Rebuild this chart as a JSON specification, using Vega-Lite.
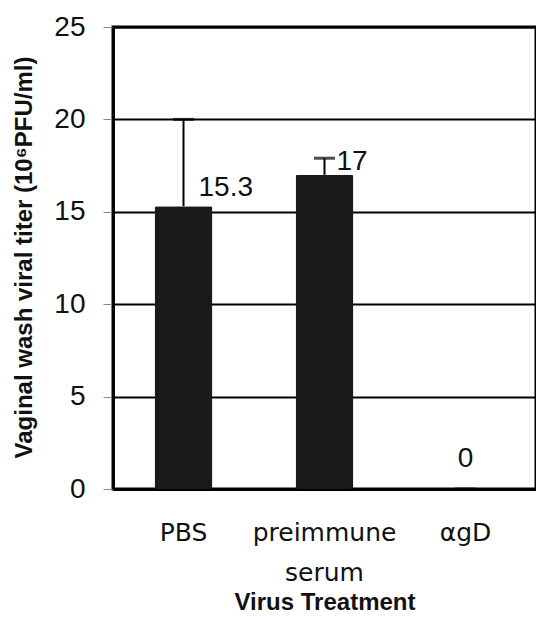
{
  "$schema": "https://vega.github.io/schema/vega-lite/v6.json",
  "width": 423,
  "height": 462,
  "autosize": "none",
  "padding": {"left": 113, "top": 27, "right": 0, "bottom": 129},
  "background": "white",
  "config": {
    "view": {"stroke": "black", "strokeWidth": 3},
    "font": "Liberation Sans"
  },
  "data": {
    "values": [
      {"treatment": "PBS", "titer": 15.3, "upper": 20, "label": "15.3"},
      {"treatment": "preimmune serum", "titer": 17, "upper": 17.9, "label": "17"},
      {"treatment": "αgD", "titer": 0, "upper": 0, "label": "0"}
    ]
  },
  "encoding": {
    "x": {
      "field": "treatment",
      "type": "nominal",
      "sort": null,
      "scale": {"paddingInner": 0.59, "paddingOuter": 0.295},
      "axis": {
        "title": "Virus Treatment",
        "titleFont": "Liberation Sans",
        "titleFontWeight": "bold",
        "titleFontSize": 24,
        "titleColor": "#111",
        "titleBaseline": "alphabetic",
        "titleY": 120,
        "labelAngle": 0,
        "labelFont": "DejaVu Sans",
        "labelFontSize": 25,
        "labelColor": "#111",
        "labelPadding": 31,
        "labelLineHeight": 40,
        "labelExpr": "datum.label == 'preimmune serum' ? ['preimmune', 'serum'] : datum.label",
        "ticks": false,
        "domainColor": "black",
        "domainWidth": 3
      }
    }
  },
  "layer": [
    {
      "mark": {"type": "bar", "color": "#1a1a1a", "cornerRadius": 2},
      "encoding": {
        "y": {
          "field": "titer",
          "type": "quantitative",
          "scale": {"domain": [0, 25], "nice": false},
          "axis": {
            "title": "Vaginal wash viral titer (10⁶PFU/ml)",
            "titleFontWeight": "bold",
            "titleFontSize": 24,
            "titleColor": "#111",
            "titleX": -89,
            "titleY": 230,
            "titleBaseline": "middle",
            "values": [0, 5, 10, 15, 20, 25],
            "grid": true,
            "gridColor": "black",
            "gridWidth": 2,
            "gridOpacity": 1,
            "labelFontSize": 28,
            "labelColor": "#111",
            "labelPadding": 18,
            "tickSize": 10,
            "tickColor": "#888",
            "domainColor": "black",
            "domainWidth": 3
          }
        }
      }
    },
    {
      "transform": [{"filter": "datum.upper > datum.titer"}],
      "mark": {"type": "rule", "color": "black", "strokeWidth": 2},
      "encoding": {
        "y": {"field": "titer", "type": "quantitative"},
        "y2": {"field": "upper"}
      }
    },
    {
      "mark": {"type": "tick", "color": "black", "orient": "horizontal", "size": 21, "thickness": 3},
      "encoding": {
        "y": {"field": "upper", "type": "quantitative"}
      }
    },
    {
      "transform": [{"filter": "datum.treatment == 'PBS'"}],
      "mark": {"type": "text", "align": "left", "baseline": "alphabetic", "dx": 15, "dy": -10, "fontSize": 28, "color": "#111"},
      "encoding": {
        "y": {"field": "titer", "type": "quantitative"},
        "text": {"field": "label"}
      }
    },
    {
      "transform": [{"filter": "datum.treatment == 'preimmune serum'"}],
      "mark": {"type": "text", "align": "left", "baseline": "alphabetic", "dx": 12, "dy": -5, "fontSize": 28, "color": "#111"},
      "encoding": {
        "y": {"field": "titer", "type": "quantitative"},
        "text": {"field": "label"}
      }
    },
    {
      "transform": [{"filter": "datum.treatment == 'αgD'"}],
      "mark": {"type": "text", "align": "center", "baseline": "alphabetic", "dy": -22, "fontSize": 28, "color": "#111"},
      "encoding": {
        "y": {"field": "titer", "type": "quantitative"},
        "text": {"field": "label"}
      }
    }
  ]
}
